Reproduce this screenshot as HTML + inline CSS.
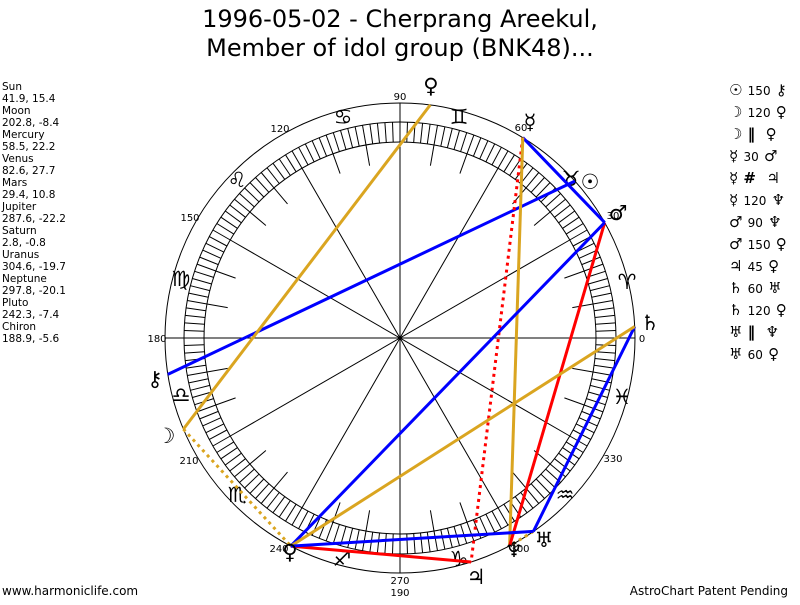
<!DOCTYPE html>
<html><head><meta charset="utf-8"><style>
body{margin:0;background:#fff;width:800px;height:600px;overflow:hidden;font-family:"Liberation Sans","DejaVu Sans",sans-serif}
</style></head><body>
<svg width="800" height="600" xmlns="http://www.w3.org/2000/svg" font-family="'DejaVu Sans','Liberation Sans',sans-serif">
<text x="400" y="27" font-size="24" text-anchor="middle" font-family="'DejaVu Sans',sans-serif">1996-05-02 - Cherprang Areekul,</text>
<text x="400" y="56" font-size="24" text-anchor="middle" font-family="'DejaVu Sans',sans-serif">Member of idol group (BNK48)...</text>
<g font-size="10.5" fill="#000">
<text x="2" y="90">Sun</text><text x="2" y="102">41.9, 15.4</text>
<text x="2" y="114">Moon</text><text x="2" y="126">202.8, -8.4</text>
<text x="2" y="138">Mercury</text><text x="2" y="150">58.5, 22.2</text>
<text x="2" y="162">Venus</text><text x="2" y="174">82.6, 27.7</text>
<text x="2" y="186">Mars</text><text x="2" y="198">29.4, 10.8</text>
<text x="2" y="210">Jupiter</text><text x="2" y="222">287.6, -22.2</text>
<text x="2" y="234">Saturn</text><text x="2" y="246">2.8, -0.8</text>
<text x="2" y="258">Uranus</text><text x="2" y="270">304.6, -19.7</text>
<text x="2" y="282">Neptune</text><text x="2" y="294">297.8, -20.1</text>
<text x="2" y="306">Pluto</text><text x="2" y="318">242.3, -7.4</text>
<text x="2" y="330">Chiron</text><text x="2" y="342">188.9, -5.6</text>
</g>
<g font-size="15" fill="#000" font-weight="bold">
<text x="729" y="95">☉ <tspan font-size="12" font-weight="normal">150</tspan> ⚷</text>
<text x="729" y="117">☽ <tspan font-size="12" font-weight="normal">120</tspan> ♀</text>
<text x="729" y="139">☽ ‖ &#160;♀</text>
<text x="729" y="161">☿ <tspan font-size="12" font-weight="normal">30</tspan> ♂</text>
<text x="729" y="183">☿ # &#160;♃</text>
<text x="729" y="205">☿ <tspan font-size="12" font-weight="normal">120</tspan> ♆</text>
<text x="729" y="227">♂ <tspan font-size="12" font-weight="normal">90</tspan> ♆</text>
<text x="729" y="249">♂ <tspan font-size="12" font-weight="normal">150</tspan> ♀</text>
<text x="729" y="271">♃ <tspan font-size="12" font-weight="normal">45</tspan> ♀</text>
<text x="729" y="293">♄ <tspan font-size="12" font-weight="normal">60</tspan> ♅</text>
<text x="729" y="315">♄ <tspan font-size="12" font-weight="normal">120</tspan> ♀</text>
<text x="729" y="337">♅ ‖ &#160;♆</text>
<text x="729" y="359">♅ <tspan font-size="12" font-weight="normal">60</tspan> ♀</text>
</g>
<g id="chart" stroke="#000" fill="none" stroke-width="1">
<circle cx="400" cy="338" r="235"/>
<circle cx="400" cy="338" r="216"/>
<circle cx="400" cy="338" r="196"/>
<line x1="400" y1="103" x2="400" y2="573"/>
<line x1="165" y1="338" x2="635" y2="338"/>
<g id="ticks"></g>
</g>
<g font-size="10" text-anchor="middle" fill="#000">
<text x="400" y="100">90</text><text x="280" y="132">120</text><text x="190" y="221">150</text>
<text x="157" y="342">180</text><text x="189" y="464">210</text><text x="279" y="552">240</text>
<text x="400" y="584">270</text><text x="400" y="596">190</text><text x="520" y="552">300</text>
<text x="613" y="462">330</text><text x="642" y="342">0</text><text x="613" y="219">30</text>
<text x="521" y="131">60</text>
</g>
<g font-size="21" text-anchor="middle" fill="#000">
<text x="627" y="289">♈</text><text x="571" y="186">♉</text><text x="459" y="124">♊</text>
<text x="343" y="124">♋</text><text x="237" y="187">♌</text><text x="181" y="286">♍</text>
<text x="181" y="402">♎</text><text x="237" y="502">♏</text><text x="342" y="566">♐</text>
<text x="459" y="566">♑</text><text x="565" y="502">♒</text><text x="622" y="404">♓</text>
</g>
<g stroke-width="3" fill="none">
<line x1="574.9" y1="181.1" x2="167.8" y2="374.4" stroke="#0000ff"/>
<line x1="183.4" y1="429.1" x2="430.3" y2="104.9" stroke="#daa520"/>
<line x1="183.4" y1="429.1" x2="290.8" y2="546.1" stroke="#daa520" stroke-dasharray="3,4"/>
<line x1="522.8" y1="137.6" x2="604.7" y2="222.6" stroke="#0000ff"/>
<line x1="522.8" y1="137.6" x2="471.1" y2="562" stroke="#ff0000" stroke-dasharray="3,4"/>
<line x1="522.8" y1="137.6" x2="509.6" y2="545.9" stroke="#daa520"/>
<line x1="604.7" y1="222.6" x2="509.6" y2="545.9" stroke="#ff0000"/>
<line x1="604.7" y1="222.6" x2="290.8" y2="546.1" stroke="#0000ff"/>
<line x1="471.1" y1="562" x2="290.8" y2="546.1" stroke="#ff0000"/>
<line x1="634.7" y1="326.5" x2="533.4" y2="531.4" stroke="#0000ff"/>
<line x1="634.7" y1="326.5" x2="290.8" y2="546.1" stroke="#daa520"/>
<line x1="533.4" y1="531.4" x2="509.6" y2="545.9" stroke="#daa520" stroke-dasharray="3,4"/>
<line x1="533.4" y1="531.4" x2="290.8" y2="546.1" stroke="#0000ff"/>
</g>
<g font-size="21" text-anchor="middle" fill="#000">
<text x="590" y="189">☉</text><text x="166" y="443">☽</text><text x="530" y="129">☿</text>
<text x="431" y="93">♀</text><text x="618" y="220">♂</text><text x="476" y="584">♃</text>
<text x="650" y="330">♄</text><text x="544" y="547">♅</text><text x="514" y="557">♆</text>
<text x="290" y="559">♀</text><text x="155" y="386">⚷</text>
</g>
<g font-size="12" fill="#000">
<text x="2" y="595">www.harmoniclife.com</text>
<text x="788" y="595" text-anchor="end">AstroChart Patent Pending</text>
</g>
</svg>
<script>
(function(){var g=document.getElementById('ticks'),s='',cx=400,cy=338;
function L(a,r1,r2){var c=Math.cos(a*Math.PI/180),n=Math.sin(a*Math.PI/180);
s+='<line x1="'+(cx+r1*c).toFixed(1)+'" y1="'+(cy-r1*n).toFixed(1)+'" x2="'+(cx+r2*c).toFixed(1)+'" y2="'+(cy-r2*n).toFixed(1)+'"/>';}
for(var a=0;a<360;a+=2)L(a,196,216);
for(a=0;a<360;a+=10)if(a%30)L(a,175,196);
for(a=30;a<180;a+=30)if(a!=90)L(a,196,-196);
g.innerHTML=s;})();
</script>
</body></html>
